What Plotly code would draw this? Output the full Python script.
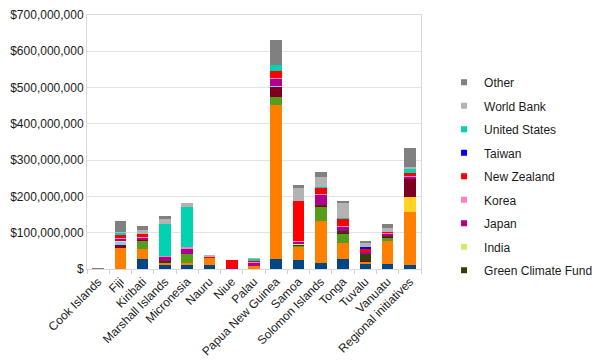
import plotly.graph_objects as go

categories = ["Cook Islands", "Fiji", "Kiribati", "Marshall Islands", "Micronesia", "Nauru",
              "Niue", "Palau", "Papua New Guinea", "Samoa", "Solomon Islands", "Tonga",
              "Tuvalu", "Vanuatu", "Regional initiatives"]

# values in millions of US$
adb = [0, 0, 27.5, 12, 12, 10, 0, 0, 27.5, 25, 16.5, 27.5, 13, 14, 10]
australia = [0, 58, 27.5, 6.4, 4.6, 21, 2.5, 8, 425.6, 38, 117, 44, 9, 62.4, 145.8]
canada = [0, 0, 0, 0, 0, 0, 0, 0, 0, 0, 0, 0, 0, 0, 44]
china = [0, 0, 23, 0, 25.7, 0, 0, 0, 20.2, 3, 39.4, 25.7, 0, 11, 0]
eu = [0, 8, 3.7, 0, 0, 0, 0, 0, 29.3, 0, 2, 3, 1, 3, 50.5]
france = [0, 10, 0, 0, 0, 0, 0, 0, 3, 0, 0, 0, 0, 0, 0]
gcf = [0, 0, 0, 4.6, 0, 0, 0, 0, 0, 2, 1.7, 3.4, 20, 2.5, 0]
india = [0, 1, 0, 0, 0, 0, 0, 0, 0, 1, 0, 0, 0, 0, 0]
japan = [0, 6, 4, 11, 14.7, 2, 1, 10, 19.3, 6, 27.5, 12.8, 4, 5, 4]
korea = [0, 3, 2, 3, 2.8, 0, 0.5, 2, 2.7, 1.5, 2.7, 2, 2, 1.4, 2.4]
new_zealand = [0, 10, 9, 0, 0, 2, 21, 2, 17.4, 110, 16.5, 20.2, 5, 2.7, 9.2]
taiwan = [0, 0, 0, 0, 0, 0, 0, 0, 0, 0, 0, 0, 7, 0, 0]
united_states = [0, 4, 0, 87, 112, 0, 0, 7, 18.3, 0, 2.7, 2.7, 1, 0, 11.9]
world_bank = [0, 2, 11, 14.7, 9, 2, 0, 1, 0, 38, 27.5, 41.3, 11, 11, 4.6]
other = [1, 30, 10, 6.4, 0, 0, 0, 0, 67.9, 8, 13.8, 2.7, 2, 11, 52.3]

y_tick_vals = [0, 100e6, 200e6, 300e6, 400e6, 500e6, 600e6, 700e6]
y_tick_text = ["$", "$100,000,000", "$200,000,000", "$300,000,000", "$400,000,000",
               "$500,000,000", "$600,000,000", "$700,000,000"]

# stack order bottom -> top: (name, values, colour, shown in legend)
series = [
    ("Asian Development Bank", adb, "#004586", False),
    ("Australia", australia, "#ff8000", False),
    ("Canada", canada, "#ffd320", False),
    ("China", china, "#579d1c", False),
    ("European Union", eu, "#7e0021", False),
    ("France", france, "#83caff", False),
    ("Green Climate Fund", gcf, "#314004", True),
    ("India", india, "#d4e86b", True),
    ("Japan", japan, "#b0008e", True),
    ("Korea", korea, "#ff80c0", True),
    ("New Zealand", new_zealand, "#ff0000", True),
    ("Taiwan", taiwan, "#0000ff", True),
    ("United States", united_states, "#00d2b2", True),
    ("World Bank", world_bank, "#b3b3b3", True),
    ("Other", other, "#808080", True),
]

fig = go.Figure()
for name, vals, color, _ in series:
    fig.add_trace(go.Bar(
        x=categories, y=[v * 1e6 for v in vals], name=name,
        marker=dict(color=color, line=dict(width=0)),
        showlegend=False,
    ))

# legend entries (small square swatches), top to bottom
for name, vals, color, show in reversed(series):
    if not show:
        continue
    fig.add_trace(go.Scatter(
        x=[None], y=[None], mode="markers", name=name, legendgroup=name,
        marker=dict(symbol="square", size=6, color=color),
        showlegend=True,
    ))

fig.update_layout(
    width=592, height=354,
    barmode="stack", bargap=0.48,
    paper_bgcolor="white", plot_bgcolor="white",
    margin=dict(l=79, r=179, t=7, b=93, autoexpand=False),
    font=dict(family="Liberation Sans, Arial, sans-serif", size=12, color="#1a1a1a"),
    legend=dict(x=1.069, xanchor="left", y=0.792, yanchor="top",
                traceorder="grouped", tracegroupgap=4.5,
                font=dict(size=12), bgcolor="rgba(0,0,0,0)", itemwidth=30),
    xaxis=dict(
        type="category", tickangle=-45, tickson="boundaries", automargin=False,
        ticks="outside", ticklen=4, tickcolor="#d0d0d0",
        showline=True, linecolor="#d9d9d9", mirror=True,
        showgrid=False, tickfont=dict(size=12),
    ),
    yaxis=dict(
        range=[0, 700e6], tickvals=y_tick_vals, ticktext=y_tick_text, automargin=False,
        ticklabeloverflow="allow",
        showgrid=True, gridcolor="#e3e3e3", gridwidth=1,
        showline=True, linecolor="#d9d9d9", mirror=True,
        ticks="", zeroline=False, tickfont=dict(size=12),
    ),
)

fig.write_html("out.html")
